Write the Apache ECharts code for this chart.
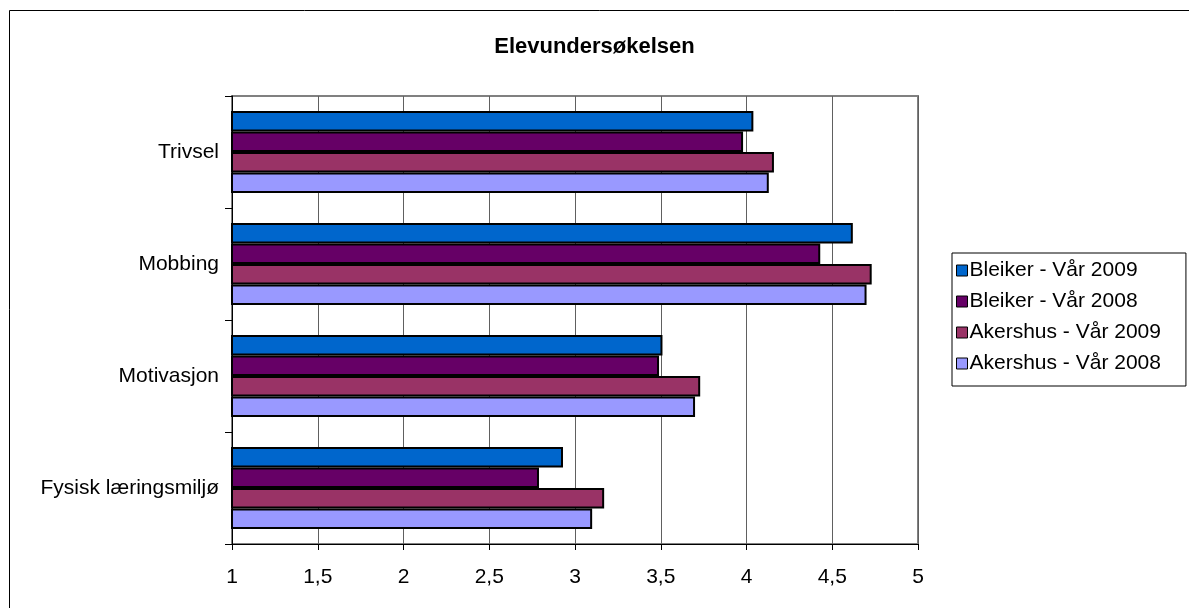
<!DOCTYPE html>
<html>
<head>
<meta charset="utf-8">
<script src="https://cdn.jsdelivr.net/npm/echarts@6/dist/echarts.min.js"></script>
<style>
html,body{margin:0;padding:0;background:#fff;}
#main{width:1189px;height:608px;}
</style>
</head>
<body>
<div id="main"></div>
<script>
var categories = ['Trivsel', 'Mobbing', 'Motivasjon', 'Fysisk læringsmiljø'];
var seriesNames = ['Bleiker - Vår 2009', 'Bleiker - Vår 2008', 'Akershus - Vår 2009', 'Akershus - Vår 2008'];
var bleiker2009 = [4.04, 4.62, 3.51, 2.93];
var bleiker2008 = [3.98, 4.43, 3.49, 2.79];
var akershus2009 = [4.16, 4.73, 3.73, 3.17];
var akershus2008 = [4.13, 4.70, 3.70, 3.10];
var colors = ['#0066CC', '#660066', '#993366', '#9999FF'];

var values = [bleiker2009, bleiker2008, akershus2009, akershus2008];
var chart = echarts.init(document.getElementById('main'));
var font = 'Liberation Sans, Arial, sans-serif';
chart.setOption({
  animation: false,
  backgroundColor: '#fff',
  graphic: [{
    type: 'rect', left: 7, top: 8,
    shape: {width: 1200, height: 620},
    style: {fill: 'none', stroke: '#000', lineWidth: 1},
    z: -1
  }],
  title: {
    text: 'Elevundersøkelsen',
    left: 'center',
    top: 31,
    textStyle: {fontFamily: font, fontSize: 22, fontWeight: 'bold', color: '#000'}
  },
  legend: {
    orient: 'vertical',
    left: 952,
    top: 253,
    padding: [7, 25, 12, 4],
    borderColor: '#000',
    borderWidth: 1,
    itemWidth: 11,
    itemHeight: 11,
    itemGap: 10,
    icon: 'rect',
    itemStyle: {borderColor: '#000', borderWidth: 1},
    textStyle: {fontFamily: font, fontSize: 21, color: '#000', lineHeight: 19, padding: [0, 0, 0, -3]},
    data: seriesNames
  },
  grid: {
    left: 232, right: 271, top: 96, bottom: 64,
    show: true, borderColor: '#808080', borderWidth: 2,
    containLabel: false
  },
  xAxis: {
    type: 'value', min: 1, max: 5, interval: 0.5,
    axisLine: {show: true, lineStyle: {color: '#000', width: 1}},
    axisTick: {show: true, length: 6, lineStyle: {color: '#000'}},
    axisLabel: {
      fontFamily: font, fontSize: 21, color: '#000', margin: 23,
      formatter: function (v) { return String(v).replace('.', ','); }
    },
    splitLine: {show: true, lineStyle: {color: '#606060', width: 1}}
  },
  yAxis: {
    type: 'category', data: categories, inverse: true,
    axisLine: {show: true, lineStyle: {color: '#000', width: 1}},
    axisTick: {show: true, inside: false, length: 7, lineStyle: {color: '#000'}},
    axisLabel: {fontFamily: font, fontSize: 21, color: '#000', margin: 13}
  },
  series: seriesNames.map(function (n, i) {
    return {
      name: n, type: 'bar', data: values[i],
      barGap: '0%', barCategoryGap: '27%',
      itemStyle: {color: colors[i], borderColor: '#000', borderWidth: 2}
    };
  })
});
</script>
</body>
</html>
